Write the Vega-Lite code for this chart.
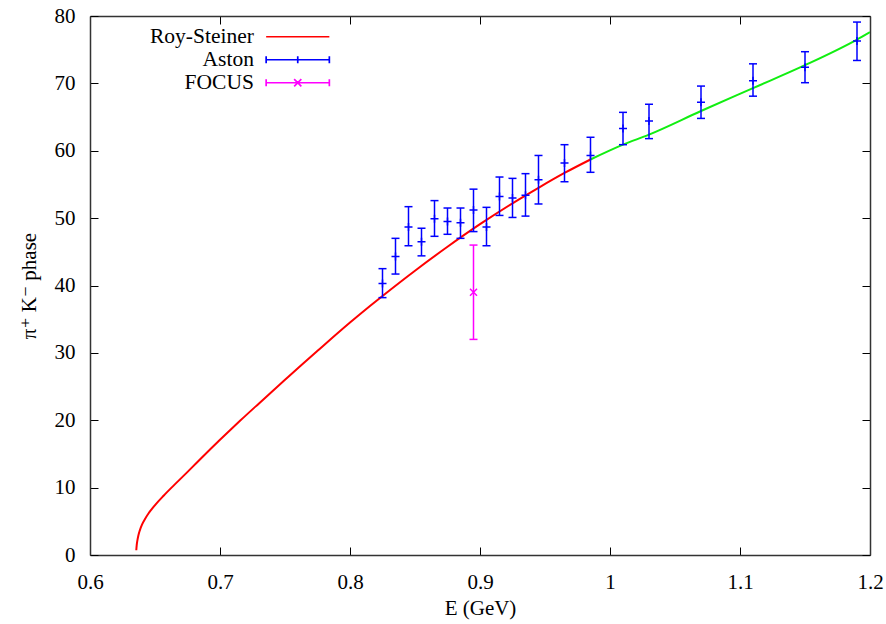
{
  "$schema": "https://vega.github.io/schema/vega-lite/v6.json",
  "width": 780,
  "height": 539,
  "autosize": {"type": "none"},
  "padding": {"left": 90, "top": 16, "right": 16, "bottom": 69},
  "background": "white",
  "config": {
    "view": {"stroke": null},
    "font": "Liberation Serif, Times New Roman, DejaVu Serif, serif",
    "axis": {
      "grid": false,
      "labelFont": "Liberation Serif, Times New Roman, DejaVu Serif, serif",
      "labelFontSize": 21,
      "labelColor": "#000",
      "titleFont": "Liberation Serif, Times New Roman, DejaVu Serif, serif",
      "titleFontSize": 21,
      "titleFontWeight": "normal",
      "titleColor": "#000",
      "tickColor": "#000",
      "tickWidth": 1,
      "tickSize": -8,
      "domainColor": "#333",
      "domainWidth": 1.5,
      "labelFlush": false
    },
    "legend": {
      "labelFont": "Liberation Serif, Times New Roman, DejaVu Serif, serif"
    }
  },
  "datasets": {
    "red": [
      {"E": 0.6356, "phi": 0.7}, {"E": 0.6359, "phi": 1.4}, {"E": 0.6364, "phi": 2.1},
      {"E": 0.6372, "phi": 2.9}, {"E": 0.6384, "phi": 3.7}, {"E": 0.64, "phi": 4.5},
      {"E": 0.6422, "phi": 5.3}, {"E": 0.6451, "phi": 6.2}, {"E": 0.6475, "phi": 6.8},
      {"E": 0.6502, "phi": 7.45}, {"E": 0.6566, "phi": 8.8}, {"E": 0.6643, "phi": 10.3},
      {"E": 0.6733, "phi": 12.0}, {"E": 0.6836, "phi": 14.0}, {"E": 0.6925, "phi": 15.7},
      {"E": 0.7, "phi": 17.1}, {"E": 0.7079, "phi": 18.55}, {"E": 0.7156, "phi": 19.95},
      {"E": 0.73, "phi": 22.5}, {"E": 0.75, "phi": 26.0}, {"E": 0.7618, "phi": 28.05},
      {"E": 0.775, "phi": 30.3}, {"E": 0.8, "phi": 34.5}, {"E": 0.8156, "phi": 37.0},
      {"E": 0.825, "phi": 38.45}, {"E": 0.85, "phi": 42.2}, {"E": 0.875, "phi": 45.75},
      {"E": 0.9, "phi": 49.1}, {"E": 0.925, "phi": 52.2}, {"E": 0.945, "phi": 54.5},
      {"E": 0.965, "phi": 56.7}, {"E": 0.985, "phi": 58.7}
    ],
    "green": [
      {"E": 0.985, "phi": 58.7}, {"E": 1.01, "phi": 60.9}, {"E": 1.03, "phi": 62.4},
      {"E": 1.07, "phi": 65.9}, {"E": 1.11, "phi": 69.3}, {"E": 1.15, "phi": 72.7},
      {"E": 1.19, "phi": 76.5}, {"E": 1.2, "phi": 77.6}
    ],
    "aston": [
      {"series": "Aston", "E": 0.825, "phi": 40.3, "lo": 38.2, "hi": 42.5},
      {"series": "Aston", "E": 0.835, "phi": 44.3, "lo": 41.7, "hi": 47.0},
      {"series": "Aston", "E": 0.845, "phi": 48.7, "lo": 45.9, "hi": 51.7},
      {"series": "Aston", "E": 0.855, "phi": 46.5, "lo": 44.4, "hi": 48.5},
      {"series": "Aston", "E": 0.865, "phi": 49.9, "lo": 47.3, "hi": 52.6},
      {"series": "Aston", "E": 0.875, "phi": 49.5, "lo": 47.6, "hi": 51.5},
      {"series": "Aston", "E": 0.885, "phi": 49.3, "lo": 47.0, "hi": 51.5},
      {"series": "Aston", "E": 0.895, "phi": 51.2, "lo": 48.0, "hi": 54.3},
      {"series": "Aston", "E": 0.905, "phi": 48.7, "lo": 45.9, "hi": 51.6},
      {"series": "Aston", "E": 0.915, "phi": 53.2, "lo": 50.4, "hi": 56.1},
      {"series": "Aston", "E": 0.925, "phi": 53.0, "lo": 50.1, "hi": 55.9},
      {"series": "Aston", "E": 0.935, "phi": 53.4, "lo": 50.3, "hi": 56.6},
      {"series": "Aston", "E": 0.945, "phi": 55.7, "lo": 52.1, "hi": 59.3},
      {"series": "Aston", "E": 0.965, "phi": 58.2, "lo": 55.4, "hi": 60.9},
      {"series": "Aston", "E": 0.985, "phi": 59.3, "lo": 56.8, "hi": 62.0},
      {"series": "Aston", "E": 1.01, "phi": 63.3, "lo": 60.9, "hi": 65.7},
      {"series": "Aston", "E": 1.03, "phi": 64.4, "lo": 61.8, "hi": 66.9},
      {"series": "Aston", "E": 1.07, "phi": 67.2, "lo": 64.8, "hi": 69.6},
      {"series": "Aston", "E": 1.11, "phi": 70.4, "lo": 68.1, "hi": 72.9},
      {"series": "Aston", "E": 1.15, "phi": 72.4, "lo": 70.1, "hi": 74.7},
      {"series": "Aston", "E": 1.19, "phi": 76.3, "lo": 73.4, "hi": 79.1}
    ],
    "focus": [
      {"series": "FOCUS", "E": 0.895, "phi": 39.0, "lo": 32.0, "hi": 46.0}
    ]
  },
  "layer": [
    {
      "data": {"name": "red"},
      "mark": {"type": "line", "color": "#ff0000", "strokeWidth": 2, "clip": true, "interpolate": "monotone"},
      "encoding": {
        "x": {
          "field": "E", "type": "quantitative",
          "scale": {"domain": [0.6, 1.2], "nice": false, "zero": false},
          "axis": {"values": [0.6, 0.7, 0.8, 0.9, 1.0, 1.1, 1.2], "format": ".1~f", "labelPadding": 24.5, "title": "E (GeV)", "titlePadding": 5}
        },
        "y": {
          "field": "phi", "type": "quantitative",
          "scale": {"domain": [0, 80], "nice": false, "zero": false},
          "axis": {"values": [0, 10, 20, 30, 40, 50, 60, 70, 80], "labelPadding": 23, "title": "π⁺ K⁻ phase", "titlePadding": 15}
        }
      }
    },
    {
      "data": {"name": "green"},
      "mark": {"type": "line", "color": "#11ee11", "strokeWidth": 2, "clip": true, "interpolate": "monotone"},
      "encoding": {
        "x": {
          "field": "E", "type": "quantitative",
          "axis": {"orient": "top", "values": [0.6, 0.7, 0.8, 0.9, 1.0, 1.1, 1.2], "labels": false, "title": null}
        },
        "y": {
          "field": "phi", "type": "quantitative",
          "axis": {"orient": "right", "values": [0, 10, 20, 30, 40, 50, 60, 70, 80], "labels": false, "title": null}
        }
      }
    },
    {
      "data": {"name": "aston"},
      "mark": {"type": "rule", "color": "#0000ff", "strokeWidth": 1.5},
      "encoding": {
        "x": {"field": "E", "type": "quantitative", "axis": null},
        "y": {"field": "lo", "type": "quantitative", "axis": null},
        "y2": {"field": "hi"}
      }
    },
    {
      "data": {"name": "aston"},
      "transform": [{"fold": ["lo", "hi"], "as": ["end", "val"]}],
      "mark": {"type": "point", "shape": "M-1,0H1", "size": 64, "filled": false, "color": "#0000ff", "strokeWidth": 1.5, "opacity": 1},
      "encoding": {
        "x": {"field": "E", "type": "quantitative", "axis": null},
        "y": {"field": "val", "type": "quantitative", "axis": null}
      }
    },
    {
      "data": {"name": "aston"},
      "mark": {"type": "point", "shape": "M-1,0H1M0,-1V1", "size": 64, "filled": false, "color": "#0000ff", "strokeWidth": 1.5, "opacity": 1},
      "encoding": {
        "x": {"field": "E", "type": "quantitative", "axis": null},
        "y": {"field": "phi", "type": "quantitative", "axis": null}
      }
    },
    {
      "data": {"name": "focus"},
      "mark": {"type": "rule", "color": "#ff00ff", "strokeWidth": 1.5},
      "encoding": {
        "x": {"field": "E", "type": "quantitative", "axis": null},
        "y": {"field": "lo", "type": "quantitative", "axis": null},
        "y2": {"field": "hi"}
      }
    },
    {
      "data": {"name": "focus"},
      "transform": [{"fold": ["lo", "hi"], "as": ["end", "val"]}],
      "mark": {"type": "point", "shape": "M-1,0H1", "size": 64, "filled": false, "color": "#ff00ff", "strokeWidth": 1.5, "opacity": 1},
      "encoding": {
        "x": {"field": "E", "type": "quantitative", "axis": null},
        "y": {"field": "val", "type": "quantitative", "axis": null}
      }
    },
    {
      "data": {"name": "focus"},
      "mark": {"type": "point", "shape": "M-1,-1L1,1M-1,1L1,-1", "size": 49, "filled": false, "color": "#ff00ff", "strokeWidth": 1.5, "opacity": 1},
      "encoding": {
        "x": {"field": "E", "type": "quantitative", "axis": null},
        "y": {"field": "phi", "type": "quantitative", "axis": null}
      }
    },
    {
      "data": {"name": "aston"},
      "transform": [{"filter": "false"}],
      "mark": {"type": "point", "filled": false, "size": 64, "strokeWidth": 1.7, "opacity": 1},
      "encoding": {
        "x": {"field": "E", "type": "quantitative", "axis": null},
        "y": {"field": "phi", "type": "quantitative", "axis": null},
        "color": {
          "field": "series", "type": "nominal",
          "scale": {"domain": ["Roy-Steiner", "Aston", "FOCUS"], "range": ["#ff0000", "#0000ff", "#ff00ff"]},
          "legend": {
            "orient": "none", "legendX": 197, "legendY": 10, "title": null, "padding": 0,
            "labelAlign": "right", "labelOffset": -54.6, "labelFont": "Liberation Serif, Times New Roman, DejaVu Serif, serif", "labelFontSize": 21.5,
            "labelLimit": 0, "symbolSize": 64, "symbolStrokeWidth": 1.7, "rowPadding": 0,
            "encode": {"labels": {"update": {"fill": {"scale": "color", "field": "value"}}}}
          }
        },
        "shape": {
          "field": "series", "type": "nominal",
          "scale": {
            "domain": ["Roy-Steiner", "Aston", "FOCUS"],
            "range": [
              "M-40,0M-7.9,0H7.9",
              "M-40,0M-7.9,0H7.9M-7.9,-0.9V0.9M7.9,-0.9V0.9M0,-0.9V0.9",
              "M-40,0M-7.9,0H7.9M-7.9,-0.9V0.9M7.9,-0.9V0.9M-0.9,-0.9L0.9,0.9M-0.9,0.9L0.9,-0.9"
            ]
          },
          "legend": {
            "orient": "none", "legendX": 197, "legendY": 10, "title": null, "padding": 0,
            "labelAlign": "right", "labelOffset": -54.6, "labelFont": "Liberation Serif, Times New Roman, DejaVu Serif, serif", "labelFontSize": 21.5,
            "labelLimit": 0, "symbolSize": 64, "symbolStrokeWidth": 1.7, "rowPadding": 0,
            "encode": {"labels": {"update": {"fill": {"scale": "color", "field": "value"}}}}
          }
        }
      }
    }
  ],
  "resolve": {"axis": {"x": "independent", "y": "independent"}}
}
